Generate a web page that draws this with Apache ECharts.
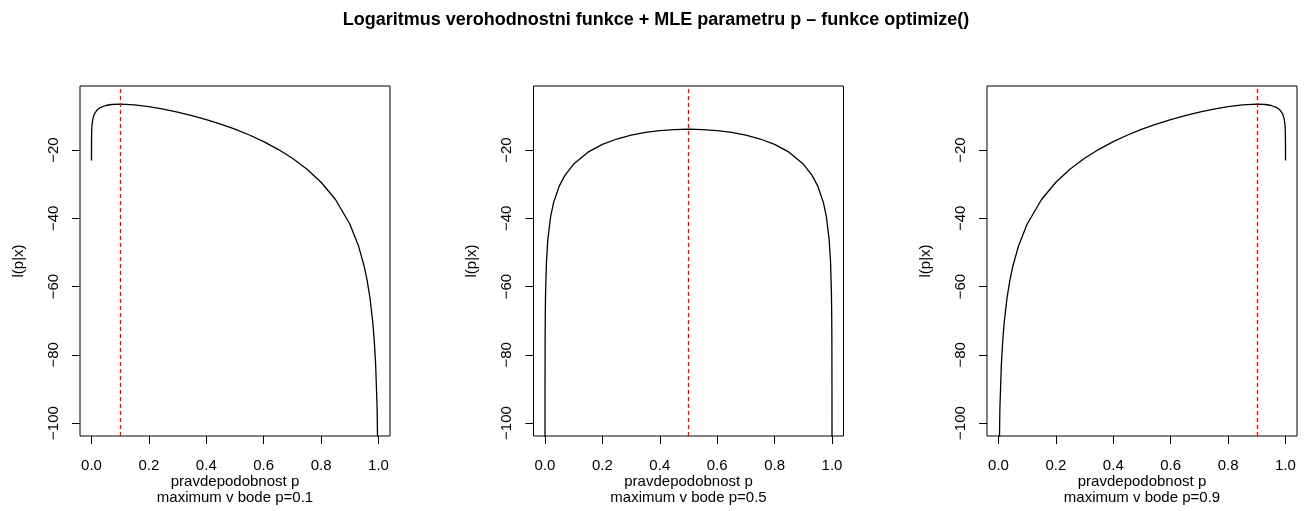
<!DOCTYPE html>
<html>
<head>
<meta charset="utf-8">
<script src="https://cdn.jsdelivr.net/npm/echarts@6/dist/echarts.min.js"></script>
<style>
html,body{margin:0;padding:0;background:#fff;}
#chart{width:1312px;height:511px;}
</style>
</head>
<body>
<div id="chart"></div>
<script>
// ---- data ----
const chartTitle = 'Logaritmus verohodnostni funkce + MLE parametru p \u2013 funkce optimize()';
const xLabel = 'pravdepodobnost p';
const yLabel = 'l(p|x)';
const subLabels = ['maximum v bode p=0.1', 'maximum v bode p=0.5', 'maximum v bode p=0.9'];
const mleP = [0.1, 0.5, 0.9];
const xTicks = [0, 0.2, 0.4, 0.6, 0.8, 1.0];
const yTicks = [-100, -80, -60, -40, -20];

const pValues1 = [0.00001, 0.0001, 0.0005, 0.001, 0.002, 0.005, 0.01, 0.02, 0.03, 0.05, 0.07, 0.1, 0.15, 0.2, 0.25, 0.3, 0.35, 0.4, 0.45, 0.5, 0.55, 0.6, 0.65, 0.7, 0.75, 0.8, 0.85, 0.9, 0.93, 0.95, 0.96, 0.97, 0.98, 0.985, 0.99, 0.995, 0.998, 0.999, 0.9999, 0.99999];
const logLik1 = [-23.03, -18.42, -15.21, -13.83, -12.47, -10.69, -9.39, -8.19, -7.56, -6.92, -6.62, -6.50, -6.72, -7.24, -7.95, -8.83, -9.85, -11.03, -12.36, -13.86, -15.57, -17.51, -19.76, -22.38, -25.53, -29.42, -34.47, -41.66, -48.01, -54.03, -58.02, -63.18, -70.46, -75.62, -82.91, -95.38, -111.87, -124.34, -165.79, -207.23];

const pValues2 = [0.00001, 0.0001, 0.0005, 0.001, 0.002, 0.005, 0.01, 0.02, 0.03, 0.05, 0.07, 0.1, 0.15, 0.2, 0.25, 0.3, 0.35, 0.4, 0.45, 0.5, 0.55, 0.6, 0.65, 0.7, 0.75, 0.8, 0.85, 0.9, 0.93, 0.95, 0.97, 0.98, 0.99, 0.995, 0.998, 0.999, 0.9995, 0.9999, 0.99999];
const logLik2 = [-115.13, -92.10, -76.01, -69.09, -62.17, -53.03, -46.15, -39.32, -35.37, -30.47, -27.32, -24.08, -20.60, -18.33, -16.74, -15.61, -14.81, -14.27, -13.96, -13.86, -13.96, -14.27, -14.81, -15.61, -16.74, -18.33, -20.60, -24.08, -27.32, -30.47, -35.37, -39.32, -46.15, -53.03, -62.17, -69.09, -76.01, -92.10, -115.13];

const pValues3 = [0.00001, 0.0001, 0.001, 0.002, 0.005, 0.01, 0.015, 0.02, 0.03, 0.04, 0.05, 0.07, 0.1, 0.15, 0.2, 0.25, 0.3, 0.35, 0.4, 0.45, 0.5, 0.55, 0.6, 0.65, 0.7, 0.75, 0.8, 0.85, 0.9, 0.93, 0.95, 0.97, 0.98, 0.99, 0.995, 0.998, 0.999, 0.9995, 0.9999, 0.99999];
const logLik3 = [-207.23, -165.79, -124.34, -111.87, -95.38, -82.91, -75.62, -70.46, -63.18, -58.02, -54.03, -48.01, -41.66, -34.47, -29.42, -25.53, -22.38, -19.76, -17.51, -15.57, -13.86, -12.36, -11.03, -9.85, -8.83, -7.95, -7.24, -6.72, -6.50, -6.62, -6.92, -7.56, -8.19, -9.39, -10.69, -12.47, -13.83, -15.21, -18.42, -23.03];

// ---- chart ----
const FONT = '"Liberation Sans", Arial, Helvetica, sans-serif';
const pSets = [pValues1, pValues2, pValues3];
const lSets = [logLik1, logLik2, logLik3];
const gridLefts = [80, 533.5, 987];

const grids = [], xAxes = [], yAxes = [], series = [];
for (let i = 0; i < 3; i++) {
  grids.push({
    left: gridLefts[i], top: 86, width: 310, height: 350,
    show: true, borderColor: '#000', borderWidth: 1, backgroundColor: 'transparent',
    containLabel: false, outerBoundsMode: 'none'
  });
  xAxes.push({
    gridIndex: i, type: 'value', min: -0.04, max: 1.04, position: 'bottom',
    axisLine: { show: false, onZero: false },
    splitLine: { show: false },
    axisTick: { show: true, length: 8, customValues: xTicks, lineStyle: { color: '#000', width: 1 } },
    axisLabel: {
      customValues: xTicks, formatter: v => v.toFixed(1),
      margin: 22, fontSize: 15, color: '#000', fontFamily: FONT
    },
    name: xLabel + '\n' + subLabels[i],
    nameLocation: 'middle', nameGap: 37.5, nameMoveOverlap: false,
    nameTextStyle: { fontSize: 15, lineHeight: 16.3, color: '#000', fontFamily: FONT, align: 'center' }
  });
  yAxes.push({
    gridIndex: i, type: 'value', min: -103.8, max: -1.2, position: 'left',
    axisLine: { show: false, onZero: false },
    splitLine: { show: false },
    axisTick: { show: true, length: 8, customValues: yTicks, lineStyle: { color: '#000', width: 1 } },
    axisLabel: {
      customValues: yTicks, rotate: 90, formatter: v => String(v).replace('-', '\u2212'),
      margin: 19, fontSize: 15, color: '#000', fontFamily: FONT
    },
    name: yLabel, nameLocation: 'middle', nameGap: 54, nameRotate: 90,
    nameTextStyle: { fontSize: 15, color: '#000', fontFamily: FONT }
  });
  series.push({
    type: 'line', xAxisIndex: i, yAxisIndex: i,
    data: pSets[i].map((p, j) => [p, lSets[i][j]]),
    showSymbol: false, symbol: 'none', clip: true, silent: true,
    lineStyle: { color: '#000', width: 1.3 },
    markLine: {
      silent: true, symbol: ['none', 'none'], label: { show: false },
      lineStyle: { color: '#ff0000', type: [4, 3], width: 1.3 },
      data: [{ xAxis: mleP[i] }]
    }
  });
}

const chart = echarts.init(document.getElementById('chart'), null, { renderer: 'canvas' });
chart.setOption({
  animation: false,
  backgroundColor: '#fff',
  title: {
    text: chartTitle, left: 'center', top: 6,
    textStyle: { fontSize: 18, fontWeight: 'bold', color: '#000', fontFamily: FONT }
  },
  grid: grids, xAxis: xAxes, yAxis: yAxes, series: series
});
</script>
</body>
</html>
